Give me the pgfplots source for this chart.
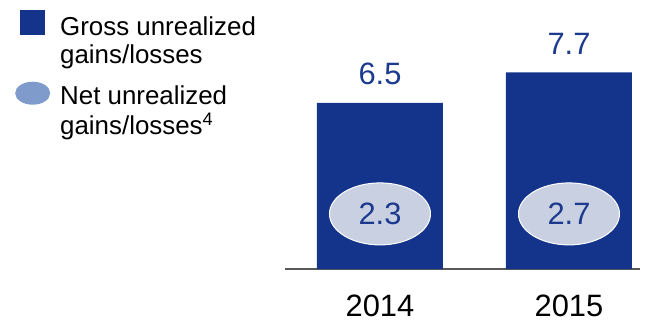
\documentclass[border=0pt]{standalone}
\usepackage{fontspec}
\setmainfont{Liberation Sans}
\usepackage{pgfplots}
\pgfplotsset{compat=1.18}
\usetikzlibrary{shapes.geometric}
\definecolor{barblue}{HTML}{13348A}
\definecolor{txtblue}{HTML}{1C3A8E}
\definecolor{ellfill}{HTML}{C8D0E2}
\definecolor{legell}{HTML}{7F9BCC}
\definecolor{axgray}{HTML}{595959}
\begin{document}
\begin{tikzpicture}
\useasboundingbox (-285bp,-53bp) rectangle (363bp,269bp);
\begin{axis}[
  scale only axis,
  width=355bp, height=269bp,
  xmin=-0.5026, xmax=1.3757,
  ymin=0, ymax=10.53,
  axis x line=bottom, axis y line=none,
  axis line style={-, axgray, line width=1.2bp},
  xtick={0,1}, xticklabels={2014,2015},
  major tick length=0pt,
  xticklabel style={font=\fontsize{31}{31}\selectfont, inner sep=0pt, yshift=-26bp},
  /pgf/number format/assume math mode=true,
  clip=false,
  legend style={at={(-0.7606,0.9628)}, anchor=north west, draw=none, fill=none,
    inner sep=0pt, row sep=45bp, column sep=10bp,
    font=\fontsize{26}{28}\selectfont,
    nodes={inner sep=0pt}, cells={anchor=base west}},
]
\addplot[ybar, bar width=126bp, bar shift=0pt, fill=barblue, draw=none,
  point meta=explicit symbolic, nodes near coords,
  every node near coord/.append style={font=\fontsize{31}{31}\selectfont, text=txtblue, anchor=south, inner sep=0pt, yshift=18bp},
  legend image code/.code={\fill[barblue] (5bp,0bp) rectangle (30bp,25bp);}]
  coordinates {(0,6.5)[6.5] (1,7.7)[7.7]};
\addlegendentry{\begin{tabular}[t]{@{}l@{}}Gross unrealized\\gains/losses\end{tabular}}
\addplot[draw=none, mark=none,
  point meta=explicit symbolic, nodes near coords,
  every node near coord/.append style={ellipse, fill=ellfill, draw=white, line width=1bp,
    minimum width=101bp, minimum height=62bp, inner sep=0pt, anchor=center,
    font=\fontsize{31}{31}\selectfont, text=txtblue},
  legend image code/.code={\fill[legell] (17.5bp,11.5bp) ellipse [x radius=17.5bp, y radius=11.5bp];}]
  coordinates {(0,2.157)[2.3] (1,2.157)[2.7]};
\addlegendentry{\begin{tabular}[t]{@{}l@{}}Net unrealized\\gains/losses\textsuperscript{4}\end{tabular}}
\end{axis}
\end{tikzpicture}
\end{document}
